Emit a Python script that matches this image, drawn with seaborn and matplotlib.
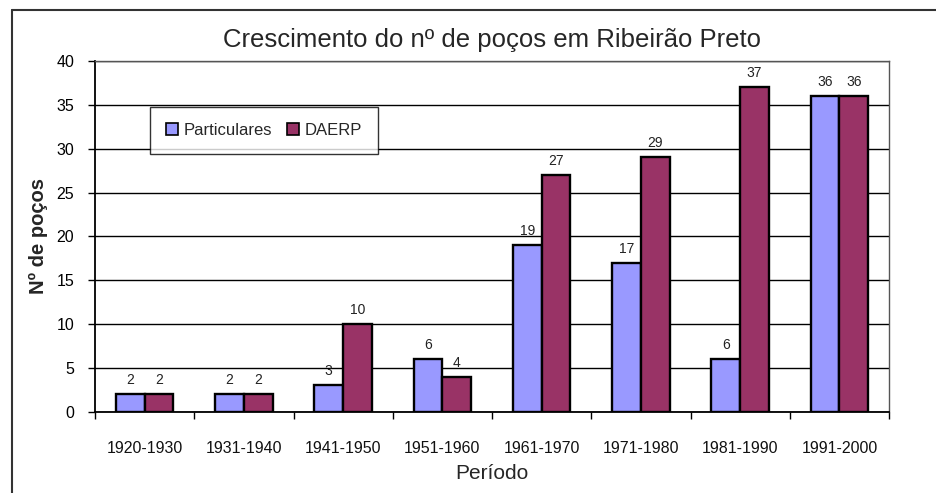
import matplotlib
matplotlib.use("Agg")
import matplotlib.pyplot as plt
from matplotlib.lines import Line2D
import seaborn as sns
import pandas as pd
import numpy as np

periodos = ["1920-1930", "1931-1940", "1941-1950", "1951-1960",
            "1961-1970", "1971-1980", "1981-1990", "1991-2000"]
particulares = [2, 2, 3, 6, 19, 17, 6, 36]
daerp = [2, 2, 10, 4, 27, 29, 37, 36]
series_names = ["Particulares", "DAERP"]
colors = ["#9999FF", "#993366"]
y_ticks = [0, 5, 10, 15, 20, 25, 30, 35, 40]

sns.set_theme(style="white")
plt.rcParams['font.family'] = ['Liberation Sans', 'DejaVu Sans']

df = pd.DataFrame({
    "Período": periodos * 2,
    "valor": particulares + daerp,
    "serie": [series_names[0]] * len(periodos) + [series_names[1]] * len(periodos),
})

fig = plt.figure(figsize=(9.37, 4.93), dpi=100)
fig.patch.set_facecolor("white")
ax = fig.add_axes([0.1014, 0.1649, 0.8474, 0.7114])

sns.barplot(data=df, x="Período", y="valor", hue="serie", order=periodos,
            hue_order=series_names, palette=colors, width=0.58,
            edgecolor="black", linewidth=1.7, saturation=1, ax=ax,
            errorbar=None)

ax.set_ylim(0, 40)
ax.set_xlim(-0.5, len(periodos) - 0.5)
ax.set_yticks(y_ticks)
ax.yaxis.grid(True, color="black", linewidth=1.0)
ax.set_axisbelow(True)

for c in ax.containers:
    ax.bar_label(c, fmt="%d", padding=5, fontsize=10, color="#222222")

for s in ax.spines.values():
    s.set_visible(True)
    s.set_color("black")
    s.set_linewidth(1.0)
ax.spines["left"].set_linewidth(1.3)
ax.spines["bottom"].set_linewidth(1.3)
ax.spines["top"].set_color("#555555")
ax.spines["right"].set_color("#555555")

ax.tick_params(axis="y", direction="out", length=5, width=1, colors="black",
               labelsize=11.5, left=True, pad=10)
ax.set_xticks(np.arange(len(periodos)))
ax.set_xticklabels(periodos)
ax.set_xticks(np.arange(-0.5, len(periodos)), minor=True)
ax.tick_params(axis="x", which="major", length=0, labelsize=11.5, pad=21, colors="#111111")
ax.tick_params(axis="x", which="minor", direction="out", length=5, width=1, bottom=True, color="black")

ax.set_xlabel("Período", fontsize=15, labelpad=6)
ax.set_ylabel("Nº de poços", fontsize=14.5, fontweight="bold", labelpad=6)
ax.set_title("Crescimento do nº de poços em Ribeirão Preto", fontsize=18.5, pad=10)

leg = ax.legend(loc="upper left", bbox_to_anchor=(0.0693, 0.869), ncol=2,
                fontsize=12, frameon=True, fancybox=False, shadow=False,
                handlelength=0.75, handleheight=0.75, handletextpad=0.3,
                columnspacing=0.9, borderpad=0.95, borderaxespad=0, title=None)
leg.get_frame().set_edgecolor("black")
leg.get_frame().set_linewidth(1.0)
for h in leg.legend_handles:
    h.set_edgecolor("black")
    h.set_linewidth(1.2)

# outer chart border (left and top visible)
fig.add_artist(Line2D([12/937, 12/937], [0, 1 - 10/493], transform=fig.transFigure,
                      color="#333333", linewidth=1.5))
fig.add_artist(Line2D([12/937, 1], [1 - 10/493, 1 - 10/493], transform=fig.transFigure,
                      color="#333333", linewidth=1.5))

fig.savefig("out.png", dpi=100, facecolor="white")
